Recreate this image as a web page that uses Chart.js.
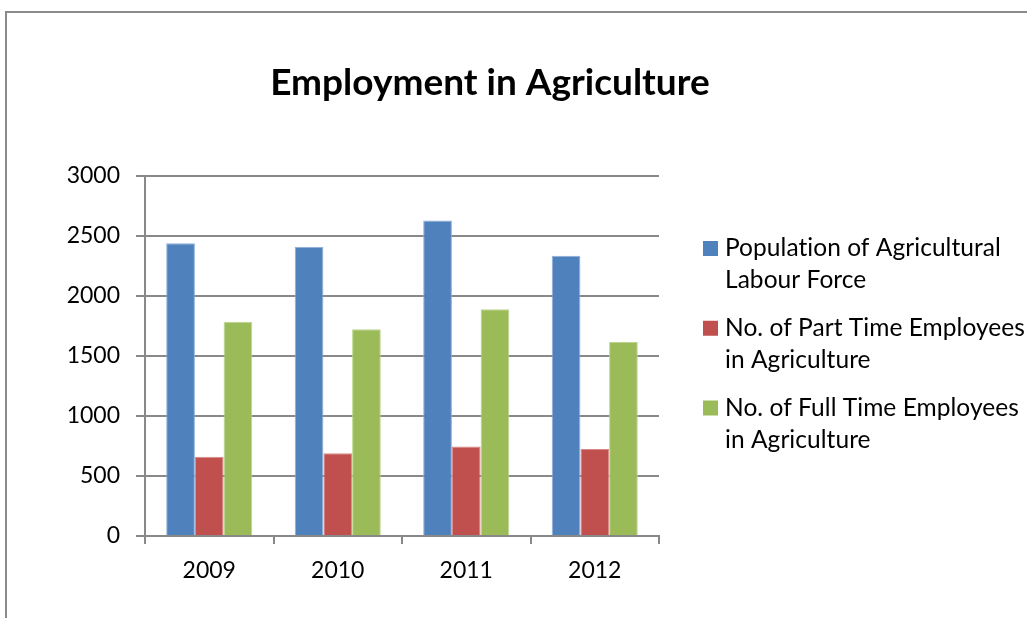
<!DOCTYPE html>
<html><head><meta charset="utf-8">
<script src="https://cdn.jsdelivr.net/npm/chart.js@4/dist/chart.umd.min.js"></script>
<style>html,body{margin:0;padding:0;background:#fff}#wrap{width:1027px;height:618px;position:relative}</style>
</head><body><div id="wrap"><canvas id="c" width="1027" height="618"></canvas></div>
<script>
const years = ['2009', '2010', '2011', '2012'];
const labourForce = [2440, 2410, 2630, 2335];
const partTime = [660, 690, 745, 725];
const fullTime = [1785, 1722, 1890, 1617];
const seriesNames = [
  'Population of Agricultural Labour Force',
  'No. of Part Time Employees in Agriculture',
  'No. of Full Time Employees in Agriculture'
];
const legendLines = [
  ['Population of Agricultural', 'Labour Force'],
  ['No. of Part Time Employees', 'in Agriculture'],
  ['No. of Full Time Employees', 'in Agriculture']
];
const seriesColors = ['#4F81BD', '#C0504D', '#9BBB59'];
const seriesEdges = ['#8eaedb', '#d98a88', '#bcd58f'];
const yMin = 0, yMax = 3000, yStep = 500;
const titleText = 'Employment in Agriculture';

const FONT = 'Lato, "Open Sans", sans-serif';
const GRID = '#898989';

const framePlugin = {
  id: 'frame',
  beforeDraw(chart) {
    const ctx = chart.ctx;
    ctx.save();
    ctx.strokeStyle = '#8a8a8a';
    ctx.lineWidth = 2;
    ctx.beginPath();
    ctx.moveTo(6, chart.height);
    ctx.lineTo(6, 12);
    ctx.lineTo(chart.width, 12);
    ctx.stroke();
    ctx.restore();
  }
};

const sideLegend = {
  id: 'sideLegend',
  afterDraw(chart) {
    const ctx = chart.ctx;
    const area = chart.scales.legendSpace;
    const x0 = area.left + 44;
    ctx.save();
    ctx.font = '24.5px ' + FONT;
    if ('letterSpacing' in ctx) ctx.letterSpacing = '0.05px';
    ctx.textBaseline = 'alphabetic';
    ctx.textAlign = 'left';
    chart.data.datasets.forEach((ds, i) => {
      const base = 256 + i * 79.75;
      ctx.fillStyle = ds.backgroundColor;
      ctx.fillRect(x0, base - 15, 15, 15);
      ctx.fillStyle = '#000';
      legendLines[i].forEach((line, j) => {
        ctx.fillText(line, x0 + 22, base + j * 32);
      });
    });
    ctx.restore();
  }
};

const makeSet = (i, data) => ({
  label: seriesNames[i],
  data: data,
  backgroundColor: seriesColors[i],
  borderColor: seriesEdges[i],
  borderWidth: 1,
  categoryPercentage: 0.67,
  barPercentage: 1.0
});

new Chart(document.getElementById('c'), {
  type: 'bar',
  data: {
    labels: years,
    datasets: [makeSet(0, labourForce), makeSet(1, partTime), makeSet(2, fullTime)]
  },
  options: {
    responsive: false,
    animation: false,
    layout: { padding: { left: 0, right: 47, top: 0, bottom: 0 } },
    plugins: {
      legend: { display: false },
      tooltip: { enabled: false },
      title: {
        display: true,
        text: titleText,
        color: '#000',
        font: { family: FONT, size: 37, weight: 'bold', lineHeight: 1.2 },
        padding: { top: 61, bottom: 70.6 }
      }
    },
    scales: {
      x: {
        grid: { display: true, drawOnChartArea: false, drawTicks: true, tickLength: 8, color: GRID, lineWidth: 2, offset: true },
        border: { display: true, color: GRID, width: 2 },
        ticks: { color: '#000', font: { family: FONT, size: 23 }, padding: 13, maxRotation: 0 },
        afterFit(s) { s.height = 82; }
      },
      y: {
        min: yMin, max: yMax,
        grid: { color: GRID, lineWidth: 2, tickLength: 9, drawTicks: true },
        border: { display: true, color: GRID, width: 2 },
        ticks: { stepSize: yStep, color: '#000', font: { family: FONT, size: 23 }, padding: 16,
                 callback: (v) => String(v) },
        afterFit(s) { s.width = 145; }
      },
      legendSpace: {
        type: 'linear',
        position: 'right',
        display: true,
        grid: { display: false },
        border: { display: false },
        ticks: { display: false },
        afterFit(s) { s.width = 321; }
      }
    }
  },
  plugins: [framePlugin, sideLegend]
});
</script>
</body></html>
